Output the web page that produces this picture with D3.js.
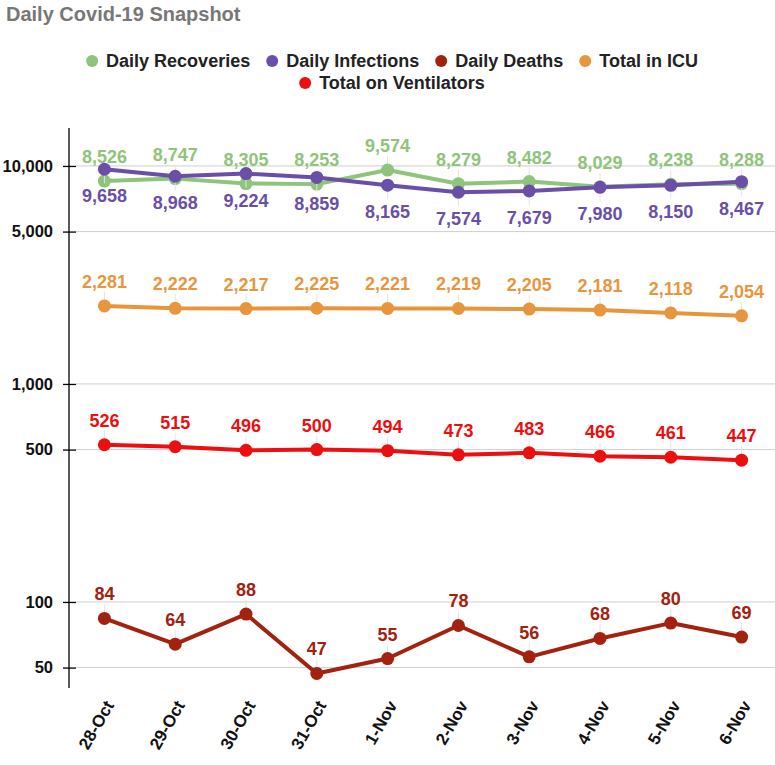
<!DOCTYPE html>
<html><head><meta charset="utf-8">
<script src="https://cdn.jsdelivr.net/npm/d3@7"></script>
<style>body{margin:0;background:#fff}svg{display:block}</style>
</head><body><svg id="c" width="775" height="765"></svg>
<script>
const dates = ["28-Oct","29-Oct","30-Oct","31-Oct","1-Nov","2-Nov","3-Nov","4-Nov","5-Nov","6-Nov"];
const recoveries = [8526,8747,8305,8253,9574,8279,8482,8029,8238,8288];
const infections = [9658,8968,9224,8859,8165,7574,7679,7980,8150,8467];
const deaths = [84,64,88,47,55,78,56,68,80,69];
const icu = [2281,2222,2217,2225,2221,2219,2205,2181,2118,2054];
const ventilators = [526,515,496,500,494,473,483,466,461,447];
const yTicks = [50,100,500,1000,5000,10000];
const seriesNames = ["Daily Recoveries","Daily Infections","Daily Deaths","Total in ICU","Total on Ventilators"];
const seriesColors = ["#8fc47b","#6a4ea8","#a3210f","#e8963e","#ec0f0f"];

(function(){
const series = [
  {name:seriesNames[0], values:recoveries, color:seriesColors[0], below:false},
  {name:seriesNames[1], values:infections, color:seriesColors[1], below:true},
  {name:seriesNames[2], values:deaths, color:seriesColors[2], below:false},
  {name:seriesNames[3], values:icu, color:seriesColors[3], below:false},
  {name:seriesNames[4], values:ventilators, color:seriesColors[4], below:false}
];

const svg = d3.select("#c");
const F = "'Liberation Sans', Arial, sans-serif";
const pL = 69, pR = 777, pT = 128, pB = 688;

const x = d3.scalePoint().domain(dates).range([pL, pR]).padding(0.5);
const y = d3.scaleLog().domain([40.3, 14930]).range([pB, pT]);

svg.append("text").attr("x",6).attr("y",21).attr("font-family",F).attr("font-weight","bold")
  .attr("font-size",20).attr("fill","#777").text("Daily Covid-19 Snapshot");

svg.append("g").selectAll("line").data(yTicks).join("line")
  .attr("x1",76).attr("x2",775).attr("y1",d=>y(d)).attr("y2",d=>y(d))
  .attr("stroke","#cfcfcf").attr("stroke-width",1);

const yAxis = d3.axisLeft(y).tickValues(yTicks).tickFormat(d3.format(",")).tickSizeInner(6).tickSizeOuter(0).tickPadding(10);
const ga = svg.append("g").attr("transform",`translate(${pL},0)`).call(yAxis);
ga.select(".domain").attr("d",`M0,${pT}V${pB}`).attr("stroke","#000").attr("stroke-width",1.3);
ga.selectAll(".tick line").attr("x1",-6).attr("x2",7).attr("stroke","#000").attr("stroke-width",1.3);
ga.selectAll(".tick text").attr("font-family",F).attr("font-weight","bold").attr("font-size",16.5).attr("fill","#111");

const gx = svg.append("g");
gx.selectAll("text").data(dates).join("text")
  .attr("transform",d=>`translate(${x(d)+5},${pB+14}) rotate(-60)`)
  .attr("text-anchor","end").attr("dy","0.35em")
  .attr("font-family",F).attr("font-weight","bold").attr("font-size",17).attr("fill","#111")
  .text(d=>d);

const line = d3.line().x((d,i)=>x(dates[i])).y(d=>y(d));

series.forEach(s=>{
  const g = svg.append("g");
  g.selectAll("line.lead").data(s.values).join("line").attr("class","lead")
    .attr("x1",(d,i)=>x(dates[i])).attr("x2",(d,i)=>x(dates[i]))
    .attr("y1",d=>y(d)).attr("y2",d=> s.below ? y(d)+14 : y(d)-14)
    .attr("stroke","#e4e4e4").attr("stroke-width",1);
  g.append("path").datum(s.values).attr("d",line).attr("fill","none")
    .attr("stroke",s.color).attr("stroke-width",4).attr("stroke-linejoin","round");
  g.selectAll("circle").data(s.values).join("circle")
    .attr("cx",(d,i)=>x(dates[i])).attr("cy",d=>y(d)).attr("r",6.5).attr("fill",s.color);
  g.selectAll("text").data(s.values).join("text")
    .attr("x",(d,i)=>x(dates[i])).attr("y",d=> s.below ? y(d)+33 : y(d)-18)
    .attr("text-anchor","middle").attr("font-family",F).attr("font-weight","bold")
    .attr("font-size",18).attr("fill",s.color).text(d=>d3.format(",")(d));
});

const legRows = [[0,1,2,3],[4]];
const legY = [61,83];
const cx0 = 392;
const gap = 16;
legRows.forEach((row,ri)=>{
  const g = svg.append("g");
  let xpos = 0;
  row.forEach((si)=>{
    const it = g.append("g");
    it.append("circle").attr("cx",xpos+6).attr("cy",legY[ri]).attr("r",6).attr("fill",seriesColors[si]);
    const t = it.append("text").attr("x",xpos+20).attr("y",legY[ri]+6).attr("font-family",F)
      .attr("font-weight","bold").attr("font-size",18).attr("fill","#222").text(seriesNames[si]);
    const w = t.node().getComputedTextLength();
    xpos += 20 + w + gap;
  });
  const total = xpos - gap;
  g.attr("transform",`translate(${cx0 - total/2},0)`);
});
})();
</script></body></html>
